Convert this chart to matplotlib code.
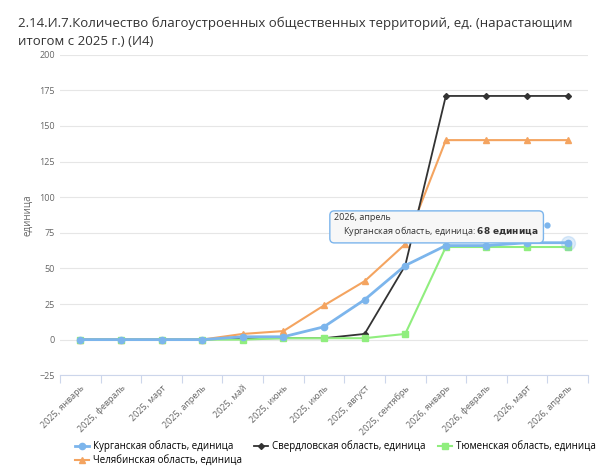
import matplotlib
matplotlib.use("Agg")
import matplotlib.pyplot as plt

plt.rcParams['font.family'] = ['Open Sans', 'DejaVu Sans']

months = ["2025, январь", "2025, февраль", "2025, март", "2025, апрель", "2025, май", "2025, июнь",
          "2025, июль", "2025, август", "2025, сентябрь", "2026, январь", "2026, февраль",
          "2026, март", "2026, апрель"]
kurgan = [0, 0, 0, 0, 2, 2, 9, 28, 52, 66, 66, 68, 68]
sverd = [0, 0, 0, 0, 1, 1, 1, 4, 52, 171, 171, 171, 171]
chelyab = [0, 0, 0, 0, 4, 6, 24, 41, 67, 140, 140, 140, 140]
tyumen = [0, 0, 0, 0, 0, 1, 1, 1, 4, 65, 65, 65, 65]
yticks = [-25, 0, 25, 50, 75, 100, 125, 150, 175, 200]

fig = plt.figure(figsize=(6, 4.75), dpi=100)
ax = fig.add_axes([0.1, 0.21, 0.88, 0.675])
x = list(range(len(months)))
ax.plot(x, chelyab, color="#f4a460", marker="^", ms=4, lw=1.5, label="Челябинская область, единица")
ax.plot(x, sverd, color="#333333", marker="D", ms=3, lw=1.3, label="Свердловская область, единица")
ax.plot(x, tyumen, color="#90ee7e", marker="s", ms=4, lw=1.5, label="Тюменская область, единица")
ax.plot(x, kurgan, color="#7cb5ec", marker="o", ms=4.5, lw=2, label="Курганская область, единица")

ax.set_xlim(-0.47, 12.47)
ax.set_ylim(-25, 200)
ax.set_yticks(yticks)
ax.set_xticks([i - 0.5 for i in range(14)], minor=False)
ax.set_xticklabels([""] * 14)
ax.set_xticks(x, minor=True)
ax.set_xticklabels(months, minor=True, rotation=45, ha="right", rotation_mode="anchor", fontsize=6.5, color="#666666")
ax.tick_params(axis="x", which="minor", length=0, pad=6)
ax.tick_params(axis="x", which="major", length=6, color="#ccd6eb")
ax.tick_params(axis="y", length=0, labelsize=6.5, labelcolor="#666666")
ax.grid(axis="y", color="#e6e6e6", lw=0.8)
for s in ["top", "right", "left"]:
    ax.spines[s].set_visible(False)
ax.spines["bottom"].set_color("#ccd6eb")
ax.set_ylabel("единица", fontsize=7, color="#666666")

fig.text(0.03, 0.965, "2.14.И.7.Количество благоустроенных общественных территорий, ед. (нарастающим\nитогом с 2025 г.) (И4)",
         fontsize=9.5, color="#333333", va="top", linespacing=1.5)

h, l = ax.get_legend_handles_labels()
order = [3, 0, 1, 2]
fig.legend([h[i] for i in order], [l[i] for i in order], loc="lower left", bbox_to_anchor=(0.11, 0.0),
           ncol=3, frameon=False, fontsize=7, handlelength=1.5, columnspacing=1.2, handletextpad=0.4,
           labelspacing=0.3)

ax.annotate("2026, апрель\n    Курганская область, единица: $\\bf{68\\ единица}$", xy=(12, 68), xytext=(-168, 6),
            textcoords="offset points", fontsize=6.5, color="#333333",
            bbox=dict(boxstyle="round,pad=0.5", fc="#f7f7f7", ec="#7cb5ec", lw=1))
ax.plot([12 - 0.5], [80.5], marker="o", ms=3.5, color="#7cb5ec", transform=ax.transData, clip_on=False)
ax.plot([12], [68], marker="o", ms=10, color="#7cb5ec", alpha=0.25)

fig.savefig("out.png", dpi=100)
